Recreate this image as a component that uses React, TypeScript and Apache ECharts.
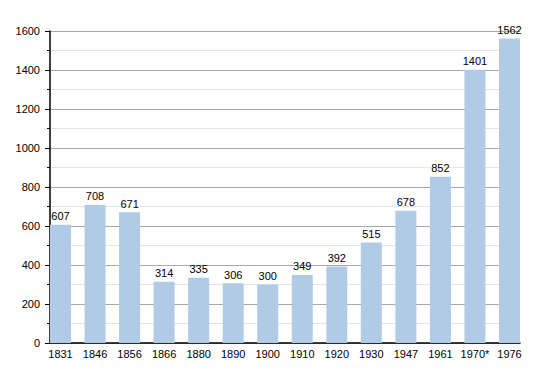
import React, { useEffect, useRef } from "react";
import * as echarts from "echarts";

const categories = ["1831", "1846", "1856", "1866", "1880", "1890", "1900", "1910", "1920", "1930", "1947", "1961", "1970*", "1976"];
const populations = [607, 708, 671, 314, 335, 306, 300, 349, 392, 515, 678, 852, 1401, 1562];

export default function App() {
  const ref = useRef<HTMLDivElement>(null);
  useEffect(() => {
    const chart = echarts.init(ref.current!, null, { renderer: "svg" });
    const font = "'Liberation Sans', Arial, sans-serif";
    chart.setOption({
      animation: false,
      grid: [
        { left: 50, right: 30, top: 31, bottom: 30 },
        { left: 60.5, right: 40.5, top: 31, bottom: 30 },
      ],
      xAxis: [
        {
          gridIndex: 0,
          type: "value",
          min: 0,
          max: 1,
          axisLine: { show: true, lineStyle: { color: "#000", width: 1.5 } },
          axisTick: { show: false },
          axisLabel: { show: false },
          splitLine: { show: false },
        },
        {
          gridIndex: 1,
          type: "category",
          data: categories,
          boundaryGap: false,
          axisLine: { show: false },
          axisTick: { show: false },
          axisLabel: { color: "#000", fontFamily: font, fontSize: 11, margin: 5, interval: 0 },
        },
      ],
      yAxis: [
        {
          gridIndex: 0,
          type: "value",
          min: 0,
          max: 1600,
          interval: 200,
          axisLine: { show: true, lineStyle: { color: "#000", width: 1.5 } },
          axisTick: { show: true, length: 5, lineStyle: { color: "#000" } },
          minorTick: { show: true, splitNumber: 2, length: 3, lineStyle: { color: "#000" } },
          splitLine: { lineStyle: { color: "#a8a8a8" } },
          minorSplitLine: { show: true, lineStyle: { color: "#e4e4e4" } },
          axisLabel: { color: "#000", fontFamily: font, fontSize: 11, margin: 10, formatter: (v: number) => String(v) },
        },
        {
          gridIndex: 1,
          type: "value",
          min: 0,
          max: 1600,
          interval: 200,
          show: false,
          splitLine: { show: false },
        },
      ],
      series: [
        {
          type: "bar",
          xAxisIndex: 1,
          yAxisIndex: 1,
          data: populations,
          barWidth: 21,
          itemStyle: { color: "#b1cbe6" },
          label: { show: true, position: "top", color: "#000", fontFamily: font, fontSize: 11, distance: 3 },
        },
      ],
    });
    return () => chart.dispose();
  }, []);
  return <div ref={ref} style={{ position: "absolute", left: 0, top: 0, width: 550, height: 373 }} />;
}
